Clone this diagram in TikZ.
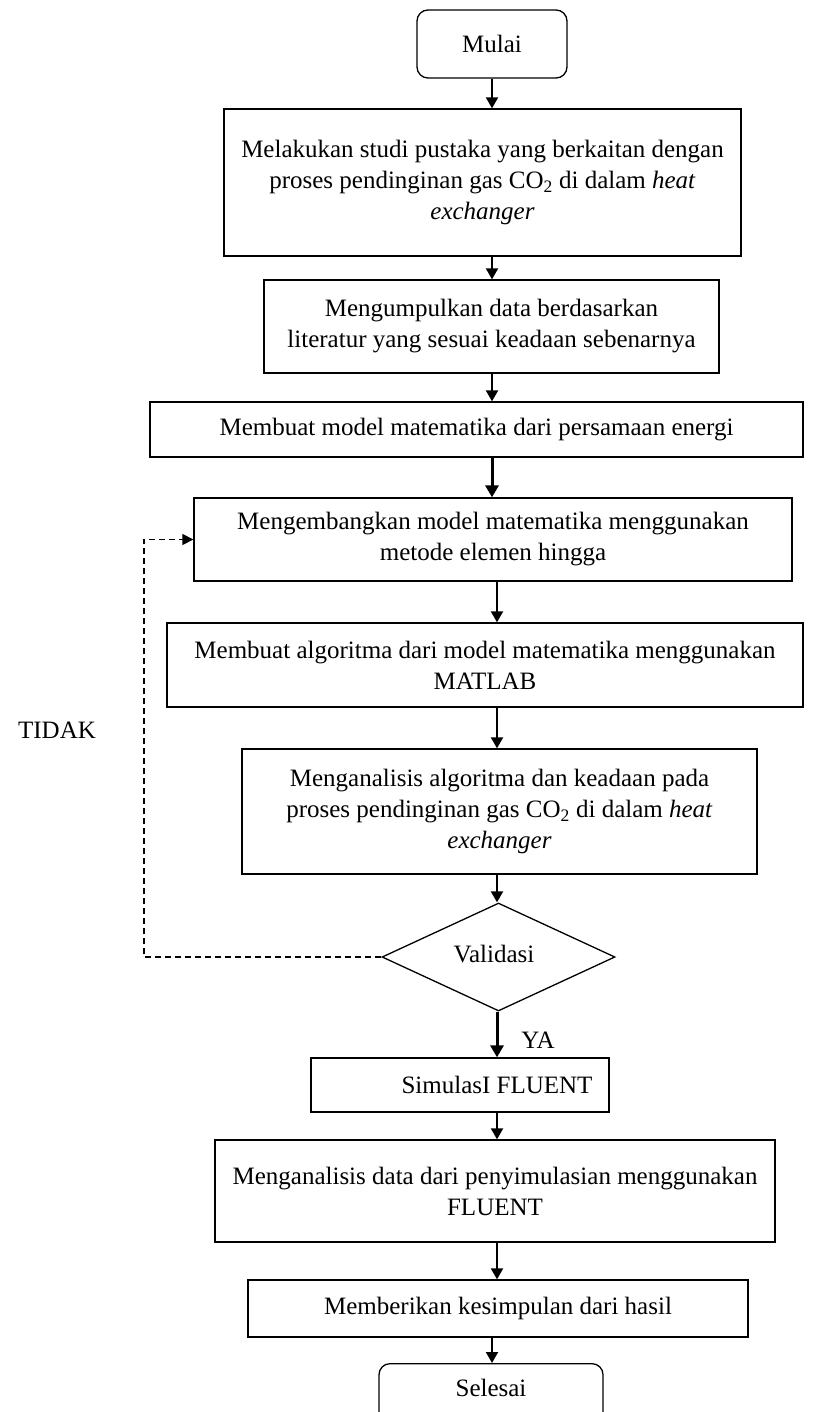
\documentclass[tikz,border=0pt]{standalone}
\usepackage{fontspec}
\setmainfont{Liberation Serif}
\usetikzlibrary{arrows.meta,shapes.geometric}
\begin{document}
\begin{tikzpicture}[x=1pt,y=-1pt,
  every node/.style={font=\fontsize{25}{31}\selectfont},
  stepbox/.style={draw, line width=1.3pt, align=center, inner sep=0pt},
  termbox/.style={draw, line width=1.3pt, rounded corners=11pt, inner sep=0pt},
  decbox/.style={draw, line width=1.3pt, diamond, aspect=2, inner sep=0pt},
  flow/.style={line width=2pt, -{Triangle[length=11pt,width=12pt]}},
  thickflow/.style={line width=3pt, -{Triangle[length=12pt,width=13pt]}},
  loopback/.style={line width=1.3pt, dash pattern=on 6pt off 4pt, -{Triangle[length=11pt,width=11pt]}},
  lbl/.style={inner sep=0pt}
]
\path[use as bounding box, fill=white] (0,0) rectangle (817,1412);
\clip (0,0) rectangle (817,1412);

\coordinate (c1) at (492,0);
\coordinate (c2) at (497,0);
\coordinate (lp) at (144,0);

\node[termbox, minimum width=150pt, minimum height=68pt] (start) at (492,44) {Mulai};
\node[stepbox, minimum width=517pt, minimum height=147pt] (b2) at (482.5,182.5)
  {Melakukan studi pustaka yang berkaitan dengan\\proses pendinginan gas CO\textsubscript{2} di dalam \textit{heat}\\\textit{exchanger}};
\node[stepbox, minimum width=455pt, minimum height=93pt] (b3) at (491.5,326.5)
  {Mengumpulkan data berdasarkan\\literatur yang sesuai keadaan sebenarnya};
\node[stepbox, minimum width=653pt, minimum height=55pt] (b4) at (476.5,429.5)
  {Membuat model matematika dari persamaan energi};
\node[stepbox, minimum width=598pt, minimum height=83pt] (b5) at (493,539.5)
  {Mengembangkan model matematika menggunakan\\metode elemen hingga};
\node[stepbox, minimum width=636pt, minimum height=84pt] (b6) at (485,665)
  {Membuat algoritma dari model matematika menggunakan\\MATLAB};
\node[stepbox, minimum width=515pt, minimum height=125pt] (b7) at (499.5,811.5)
  {Menganalisis algoritma dan keadaan pada\\proses pendinginan gas CO\textsubscript{2} di dalam \textit{heat}\\\textit{exchanger}};
\node[decbox, minimum width=233pt, minimum height=108pt] (dia) at (498.5,957) {};
\node[lbl] (tv) at (494,954) {Validasi};
\node[stepbox, minimum width=298pt, minimum height=54pt] (b8) at (460,1085) {};
\node[lbl] (t8) at (497,1085) {SimulasI FLUENT};
\node[stepbox, minimum width=560pt, minimum height=102pt] (b9) at (495,1191)
  {Menganalisis data dari penyimulasian menggunakan\\FLUENT};
\node[stepbox, minimum width=500pt, minimum height=57pt] (b10) at (498,1308.5)
  {Memberikan kesimpulan dari hasil};
\node[termbox, minimum width=224pt, minimum height=80pt, anchor=north] (stop) at (491,1363) {};
\node[lbl] (t11) at (491,1388) {Selesai};

\node[lbl] (tidak) at (57,730) {TIDAK};
\node[lbl] (ya) at (538,1040) {YA};

\draw[flow] (start.south -| c1) -- (b2.north -| c1);
\draw[flow] (b2.south -| c1) -- (b3.north -| c1);
\draw[flow] (b3.south -| c1) -- (b4.north -| c1);
\draw[thickflow] (b4.south -| c1) -- (b5.north -| c1);
\draw[flow] (b5.south -| c2) -- (b6.north -| c2);
\draw[flow] (b6.south -| c2) -- (b7.north -| c2);
\draw[flow] (b7.south -| c2) -- (dia.north -| c2);
\draw[thickflow] (dia.south -| c2) -- (b8.north -| c2);
\draw[flow] (b8.south -| c2) -- (b9.north -| c2);
\draw[flow] (b9.south -| c2) -- (b10.north -| c2);
\draw[flow] (b10.south -| c1) -- (stop.north -| c1);
\draw[loopback] (dia.west) -- (dia.west -| lp) |- (b5.west);
\end{tikzpicture}
\end{document}
